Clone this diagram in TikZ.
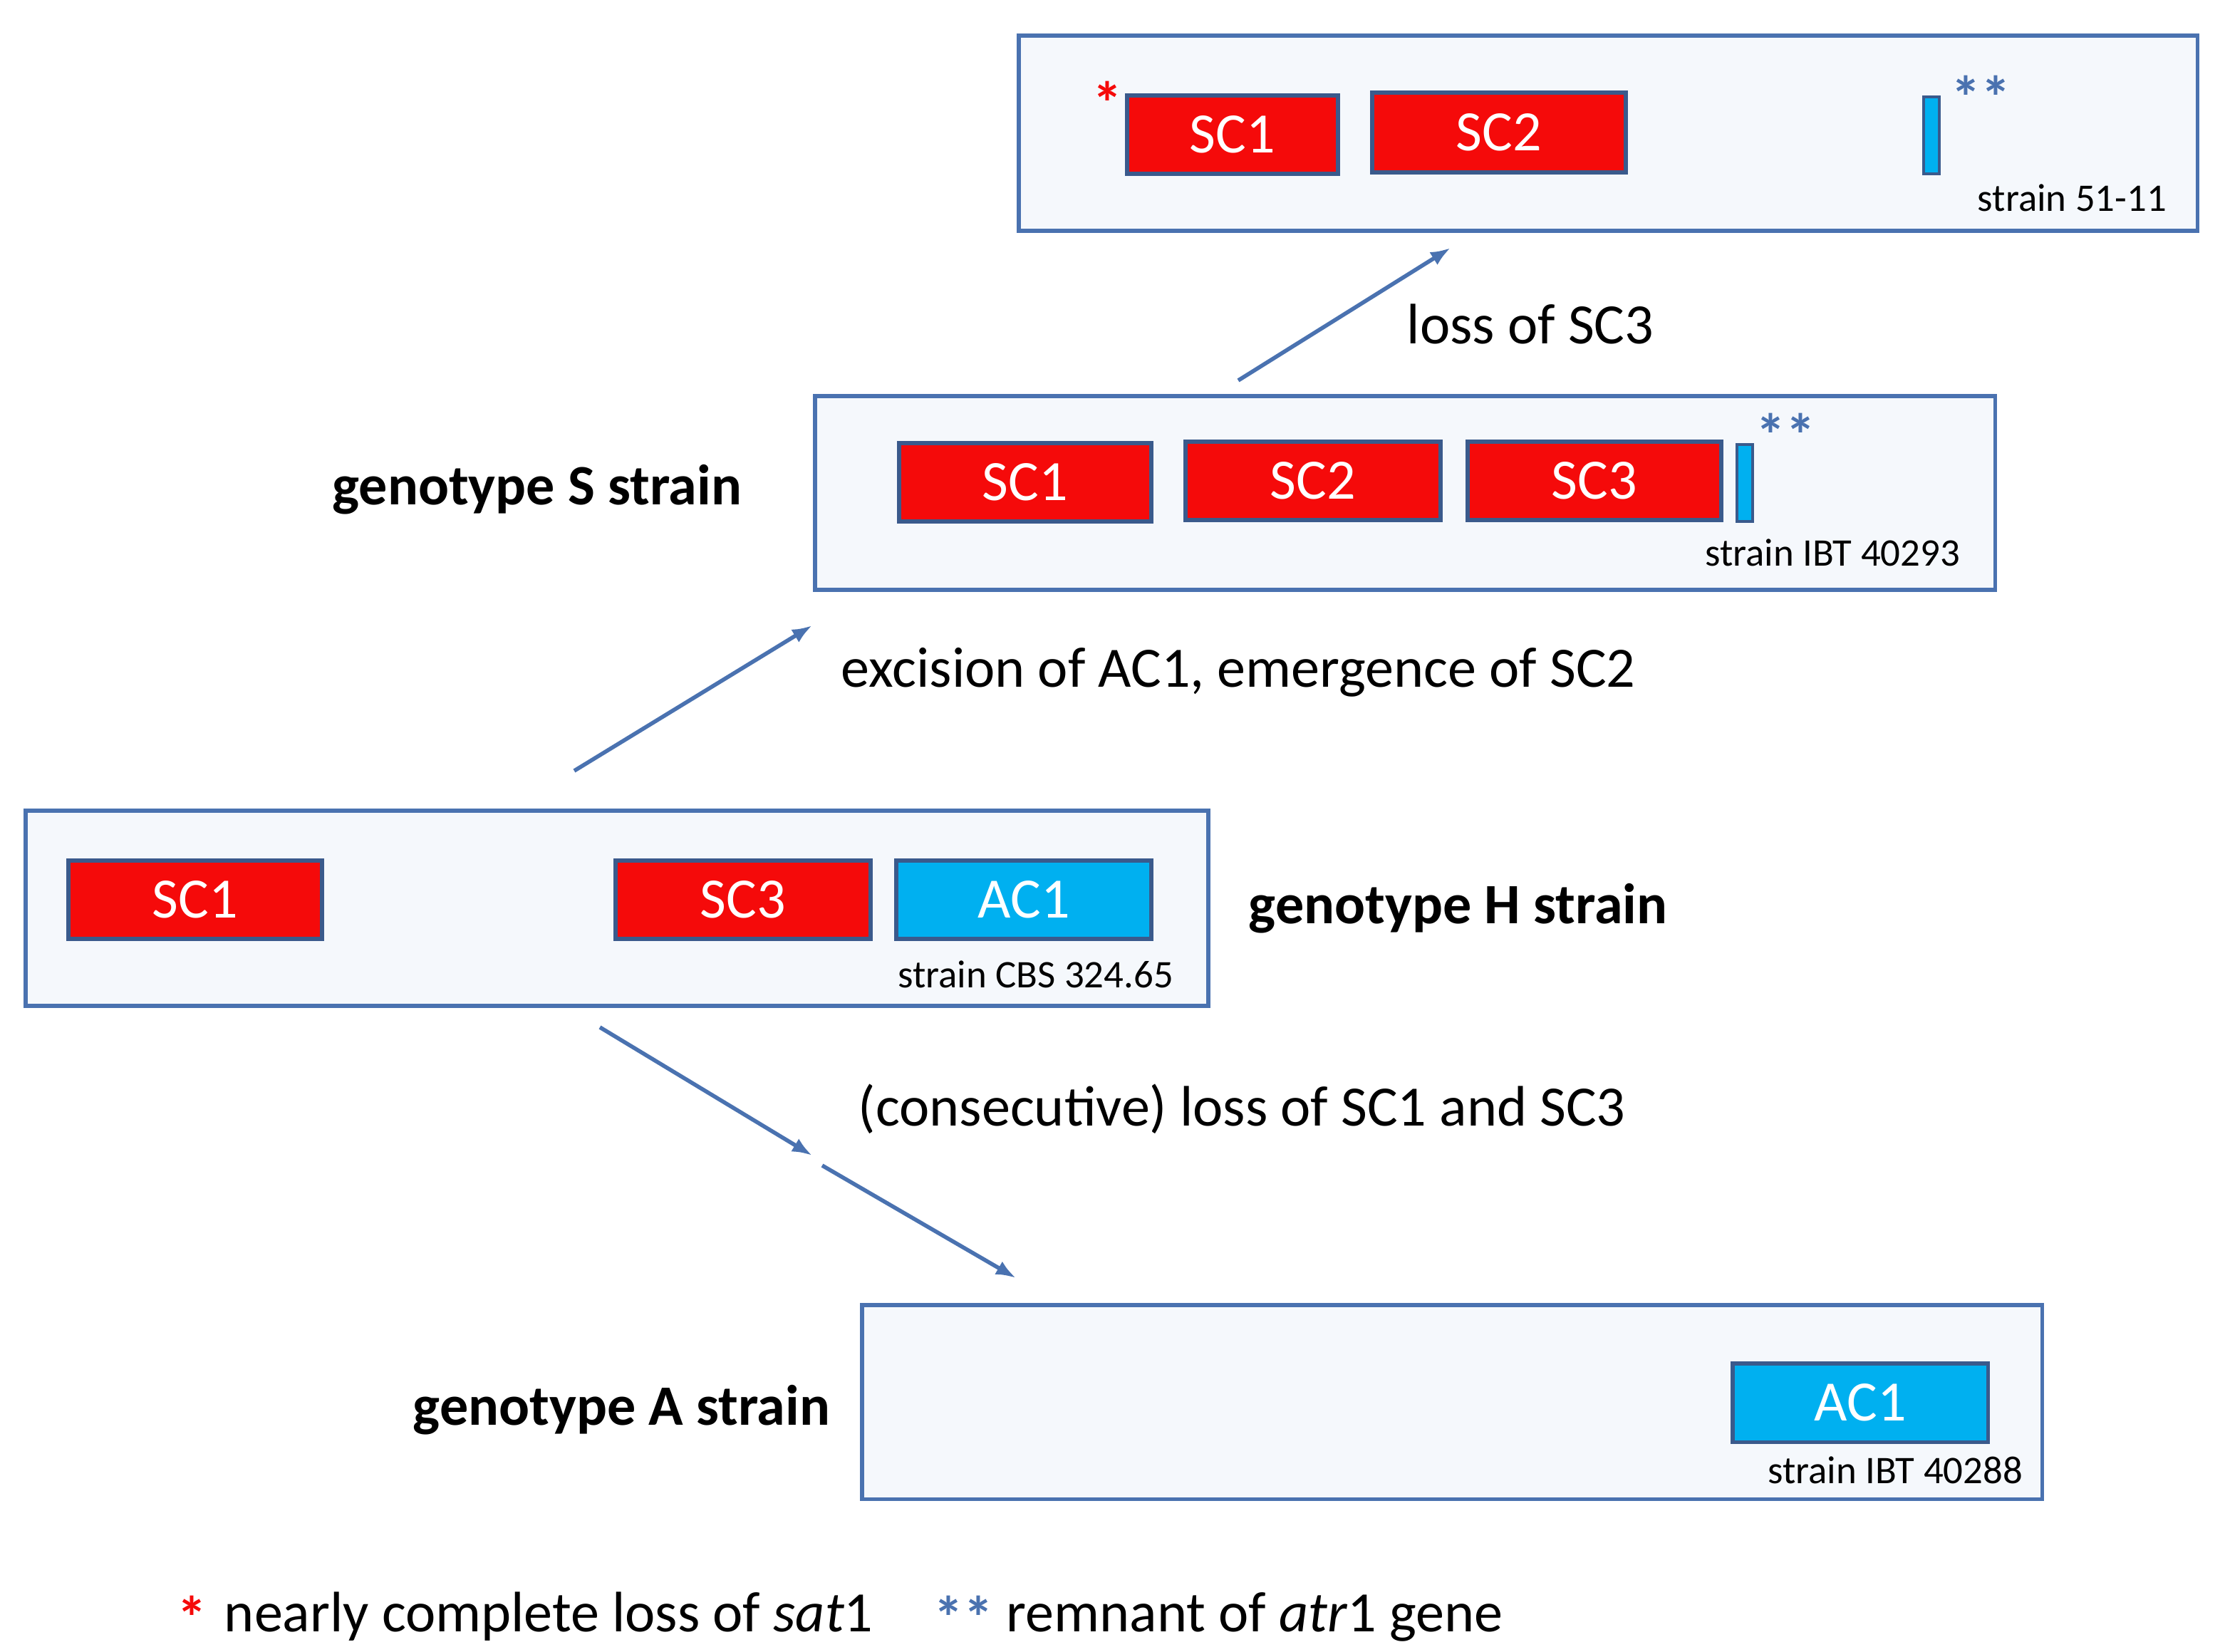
\documentclass[tikz,border=0pt]{standalone}
\usepackage{fontspec}
\setmainfont{Carlito}
\usetikzlibrary{arrows.meta}
\definecolor{bx}{HTML}{4A72B0}
\definecolor{bxfill}{HTML}{F5F8FC}
\definecolor{gred}{HTML}{F50A0A}
\definecolor{gcyan}{HTML}{00B0F0}
\definecolor{gborder}{HTML}{3A5A8C}
\begin{document}
\begin{tikzpicture}[x=0.05cm,y=-0.05cm,
  box/.style={draw=bx,fill=bxfill,line width=3.6pt},
  gene/.style={draw=gborder,line width=3.6pt,font=\fontsize{57}{60}\selectfont,text=white},
  red/.style={gene,fill=gred},
  cyan/.style={gene,fill=gcyan},
  strain/.style={font=\fontsize{39}{42}\selectfont,anchor=base east},
  geno/.style={font=\bfseries\fontsize{57}{60}\selectfont},
  lab/.style={font=\fontsize{57}{60}\selectfont,anchor=base west},
  arr/.style={draw=bx,line width=4pt,-{Latex[length=20pt,width=15pt]}},
  star/.style={font=\bfseries\fontsize{60}{60}\selectfont,inner sep=0pt}
]
\useasboundingbox (0,0) rectangle (1558,1159);
% top box
\draw[box] (715,25) rectangle (1542,162);
\draw[red] (791,67) rectangle node{SC1} (939,122);
\draw[red] (963,65) rectangle node{SC2} (1141,121);
\draw[fill=gcyan,draw=gborder,line width=3pt] (1350,68) rectangle (1361,122);
\node[star,text=gred] (st1) at (777,72) {*};
\node[star,text=bx] (ss1) at (1390,68) {**};
\node[strain] (s1) at (1523,148) {strain 51-11};
% S box
\draw[box] (572,278) rectangle (1400,414);
\draw[red] (631,311) rectangle node{SC1} (808,366);
\draw[red] (832,310) rectangle node{SC2} (1011,365);
\draw[red] (1030,310) rectangle node{SC3} (1208,365);
\draw[fill=gcyan,draw=gborder,line width=3pt] (1219,312) rectangle (1230,366);
\node[star,text=bx] (ss2) at (1253,305) {**};
\node[strain] (s2) at (1378,397) {strain IBT 40293};
\node[geno,anchor=base east] (gS) at (523,354) {genotype S strain};
% H box
\draw[box] (18,569) rectangle (848,706);
\draw[red] (48,604) rectangle node{SC1} (226,659);
\draw[red] (432,604) rectangle node{SC3} (611,659);
\draw[cyan] (629,604) rectangle node{AC1} (808,659);
\node[strain] (s3) at (826,693) {strain CBS 324.65};
\node[geno,anchor=base west] (gH) at (874,648) {genotype H strain};
% A box
\draw[box] (605,916) rectangle (1433,1052);
\draw[cyan] (1216,957) rectangle node{AC1} (1395,1012);
\node[strain] (s4) at (1422,1041) {strain IBT 40288};
\node[geno,anchor=base east] (gA) at (585,1000) {genotype A strain};
% arrows
\coordinate (a1s) at (869,267); \coordinate (a1e) at (1018,174);
\coordinate (a2s) at (403,541); \coordinate (a2e) at (570,439);
\coordinate (a3s) at (421,721); \coordinate (a3e) at (570,811);
\coordinate (a4s) at (577,818); \coordinate (a4e) at (713,897);
\draw[arr] (a1s) -- (a1e);
\draw[arr] (a2s) -- (a2e);
\draw[arr] (a3s) -- (a3e);
\draw[arr] (a4s) -- (a4e);
\node[lab] (l1) at (985,241) {loss of SC3};
\node[lab] (l2) at (588,482) {excision of AC1, emergence of SC2};
\node[lab] (l3) at (600,790) {(consecutive) loss of SC1 and SC3};
% legend
\node[star,text=gred] (lg1) at (135,1135) {*};
\node[lab] (lt1) at (155,1145) {nearly complete loss of \textit{sat}1};
\node[star,text=bx] (lg2) at (676,1135) {**};
\node[lab] (lt2) at (704,1145) {remnant of \textit{atr}1 gene};
\end{tikzpicture}
\end{document}
